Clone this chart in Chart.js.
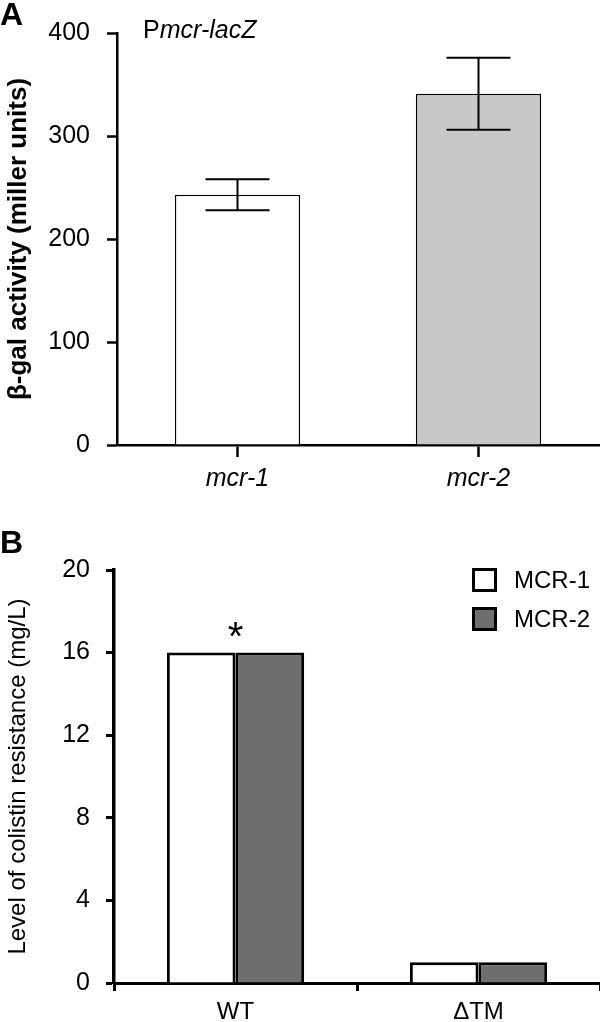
<!DOCTYPE html>
<html>
<head>
<meta charset="utf-8">
<script src="https://cdn.jsdelivr.net/npm/chart.js@4/dist/chart.umd.min.js"></script>
<style>
  body { margin: 0; background: #fff; font-family: 'Liberation Sans', Arial, sans-serif; }
  #wrap { position: relative; width: 600px; height: 1022px; overflow: hidden; }
  .box { position: absolute; left: 0; width: 600px; }
  .panel { position: absolute; font-weight: bold; font-size: 32px; color: #000; }
  .note { position: absolute; font-size: 25px; color: #000; }
  .leg { position: absolute; left: 472px; font-size: 24px; color: #000; display: flex; align-items: center; }
  .leg span.sw { display: inline-block; width: 19px; height: 18px; border: 3px solid #000; margin-right: 17px; }
</style>
</head>
<body>
<div id="wrap">
  <div class="box" style="top:0;height:510px"><canvas id="chartA" width="600" height="510"></canvas></div>
  <div class="box" style="top:510px;height:512px"><canvas id="chartB" width="600" height="512"></canvas></div>
  <div class="panel" style="left:0;top:-4px">A</div>
  <div class="panel" style="left:0;top:524px">B</div>
  <div class="note" style="left:143px;top:15px">P<i>mcr-lacZ</i></div>
  <div id="legend"></div>
</div>
<script>
console.log('Chart js')

// panel A data
var genes = ['mcr-1', 'mcr-2'];
var activity = [243, 341];
var activityErr = [15, 35];
var geneColors = ['#ffffff', '#c8c8c8'];

// panel B data
var strains = ['WT', '\u0394TM'];
var mcr1Level = [16, 1];
var mcr2Level = [16, 1];
var seriesNames = ['MCR-1', 'MCR-2'];
var seriesColors = ['#ffffff', '#6e6e6e'];

Chart.defaults.font.family = "'Liberation Sans', Arial, sans-serif";
Chart.defaults.color = '#000';

var errorBars = {
    id: 'errorBars',
    afterDatasetsDraw: function (chart) {
        var ctx = chart.ctx;
        var meta = chart.getDatasetMeta(0);
        var y = chart.scales.y;
        ctx.save();
        ctx.strokeStyle = '#000';
        ctx.lineWidth = 2;
        meta.data.forEach(function (bar, i) {
            var top = y.getPixelForValue(activity[i] + activityErr[i]);
            var bot = y.getPixelForValue(activity[i] - activityErr[i]);
            ctx.beginPath();
            ctx.moveTo(bar.x, top); ctx.lineTo(bar.x, bot);
            ctx.moveTo(bar.x - 32, top); ctx.lineTo(bar.x + 32, top);
            ctx.moveTo(bar.x - 32, bot); ctx.lineTo(bar.x + 32, bot);
            ctx.stroke();
        });
        ctx.restore();
    }
};

var star = {
    id: 'star',
    afterDatasetsDraw: function (chart) {
        var ctx = chart.ctx;
        var x = chart.scales.x.getPixelForValue(0);
        var y = chart.scales.y.getPixelForValue(Math.max(mcr1Level[0], mcr2Level[0]));
        ctx.save();
        ctx.fillStyle = '#000';
        ctx.font = "40px 'Liberation Sans', Arial, sans-serif";
        ctx.textAlign = 'center';
        ctx.textBaseline = 'alphabetic';
        ctx.fillText('*', x, y - 3);
        ctx.restore();
    }
};

var ctxA = document.getElementById('chartA').getContext('2d');
var chartA = new Chart(ctxA, {
    type: 'bar',
    data: {
        labels: genes,
        datasets: [{
            data: activity,
            backgroundColor: geneColors,
            borderColor: '#000',
            borderWidth: 1.5,
            barPercentage: 0.52,
            categoryPercentage: 1,
        }],
    },
    options: {
        responsive: false,
        animation: false,
        layout: {
            padding: { top: 33, right: 1, left: 0, bottom: 0 },
        },
        plugins: {
            tooltip: { enabled: false },
            legend: { display: false },
        },
        scales: {
            x: {
                grid: {
                    offset: false,
                    drawOnChartArea: false,
                    tickLength: 12,
                    tickWidth: 2.5,
                    tickColor: '#000',
                },
                border: { color: '#000', width: 2.5 },
                ticks: {
                    padding: 7,
                    font: { size: 25, style: 'italic' },
                },
                afterFit: function (s) { s.height = 65; },
            },
            y: {
                min: 0,
                max: 400,
                ticks: {
                    stepSize: 100,
                    padding: 17,
                    font: { size: 25 },
                },
                grid: {
                    drawOnChartArea: false,
                    tickLength: 10,
                    tickWidth: 2.5,
                    tickColor: '#000',
                },
                border: { color: '#000', width: 2.5 },
                title: {
                    display: true,
                    text: '\u03b2-gal activity (miller units)',
                    font: { size: 26, weight: 'bold' },
                    padding: { top: 3, bottom: 0 },
                },
                afterFit: function (s) { s.width = 117; },
            },
        },
    },
    plugins: [errorBars],
});

var ctxB = document.getElementById('chartB').getContext('2d');
var chartB = new Chart(ctxB, {
    type: 'bar',
    data: {
        labels: strains,
        datasets: [{
            label: seriesNames[0],
            data: mcr1Level,
            backgroundColor: seriesColors[0],
            borderColor: '#000',
            borderWidth: 3,
        }, {
            label: seriesNames[1],
            data: mcr2Level,
            backgroundColor: seriesColors[1],
            borderColor: '#000',
            borderWidth: 3,
        }],
    },
    options: {
        responsive: false,
        animation: false,
        datasets: {
            bar: { barPercentage: 1, categoryPercentage: 0.565 },
        },
        layout: {
            padding: { top: 60, right: 0, left: 0, bottom: 0 },
        },
        plugins: {
            tooltip: { enabled: false },
            legend: { display: false },
        },
        scales: {
            x: {
                grid: {
                    offset: true,
                    drawOnChartArea: false,
                    tickLength: 8,
                    tickWidth: 3,
                    tickColor: '#000',
                },
                border: { color: '#000', width: 3 },
                ticks: {
                    padding: 7,
                    font: { size: 24 },
                },
                afterFit: function (s) { s.height = 39; },
            },
            y: {
                min: 0,
                max: 20,
                ticks: {
                    stepSize: 4,
                    padding: 16,
                    font: { size: 25 },
                },
                grid: {
                    drawOnChartArea: false,
                    tickLength: 8,
                    tickWidth: 3,
                    tickColor: '#000',
                },
                border: { color: '#000', width: 3.5 },
                title: {
                    display: true,
                    text: 'Level of colistin resistance (mg/L)',
                    font: { size: 24 },
                    padding: { top: 4, bottom: 0 },
                },
                afterFit: function (s) { s.width = 114; },
            },
        },
    },
    plugins: [star],
});

// legend for panel B, built from the datasets
var legend = document.getElementById('legend');
chartB.data.datasets.forEach(function (ds, i) {
    var row = document.createElement('div');
    row.className = 'leg';
    row.style.top = (566 + i * 39) + 'px';
    row.innerHTML = '<span class="sw" style="background:' + ds.backgroundColor + '"></span>' + ds.label;
    legend.appendChild(row);
});
</script>
</body>
</html>
